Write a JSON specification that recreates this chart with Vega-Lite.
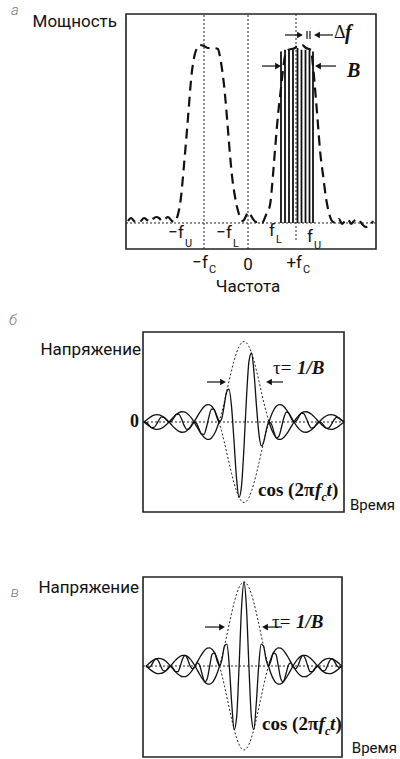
{
"$schema":"https://vega.github.io/schema/vega-lite/v6.json",
"padding":0,
"spacing":0,
"bounds":"flush",
"background":"white",
"config":{"view":{"stroke":null}},
"resolve":{"scale":{"x":"independent","y":"independent"}},
"datasets":{
"aFrame":[{"x":-12.3,"x2":12.7,"y":-0.1486,"y2":1.1943}],
"aDot":[{"x":-12.3,"x2":12.7,"y":0,"y2":0},{"x":-4.5,"x2":-4.5,"y":-0.1486,"y2":1.1943},{"x":-0.1,"x2":-0.1,"y":-0.1486,"y2":1.1943},{"x":4.7,"x2":4.7,"y":-0.097,"y2":1.1943}],
"aSpec":[{"x":-12.1,"y":0.0114},{"x":-11.8,"y":0.0286},{"x":-11.5,"y":0.0114},{"x":-11.2,"y":0},{"x":-10.8,"y":0.0114},{"x":-10.5,"y":0.0286},{"x":-10.2,"y":0.0171},{"x":-9.9,"y":0.0057},{"x":-9.6,"y":0.0229},{"x":-9.3,"y":0.0343},{"x":-9.0,"y":0.0286},{"x":-8.7,"y":0.0114},{"x":-8.4,"y":0.0229},{"x":-8.1,"y":0.0343},{"x":-7.8,"y":0.0171},{"x":-7.5,"y":0.0057},{"x":-7.3,"y":0.0171},{"x":-7.0,"y":0.0743},{"x":-6.8,"y":0.1486},{"x":-6.5,"y":0.3314},{"x":-6.2,"y":0.5314},{"x":-6.0,"y":0.6743},{"x":-5.8,"y":0.8171},{"x":-5.5,"y":0.9429},{"x":-5.2,"y":1.0},{"x":-4.9,"y":1.0171},{"x":-4.5,"y":1.0114},{"x":-4.1,"y":1.0},{"x":-3.6,"y":1.0},{"x":-3.1,"y":0.9943},{"x":-2.9,"y":0.95},{"x":-2.7,"y":0.88},{"x":-2.5,"y":0.79},{"x":-2.3,"y":0.67},{"x":-2.1,"y":0.53},{"x":-1.9,"y":0.39},{"x":-1.7,"y":0.27},{"x":-1.4,"y":0.15},{"x":-1.1,"y":0.07},{"x":-0.8,"y":0.0229},{"x":-0.6,"y":0.0114},{"x":-0.3,"y":0.04},{"x":-0.1,"y":0.0629},{"x":0.1,"y":0.0514},{"x":0.4,"y":0.0229},{"x":0.7,"y":0.0057},{"x":1.0,"y":0.0114},{"x":1.3,"y":0},{"x":1.7,"y":0.0457},{"x":2.1,"y":0.1029},{"x":2.4,"y":0.2743},{"x":2.6,"y":0.4171},{"x":2.9,"y":0.6171},{"x":3.2,"y":0.7714},{"x":3.4,"y":0.8743},{"x":3.6,"y":0.9543},{"x":3.9,"y":0.9886},{"x":4.6,"y":1.0},{"x":4.9,"y":1.0171},{"x":5.3,"y":1.0171},{"x":5.7,"y":1.0},{"x":6.2,"y":0.9886},{"x":6.4,"y":0.8971},{"x":6.7,"y":0.7029},{"x":6.9,"y":0.56},{"x":7.1,"y":0.4171},{"x":7.4,"y":0.2743},{"x":7.7,"y":0.1429},{"x":8.0,"y":0.0571},{"x":8.3,"y":0.0114},{"x":8.7,"y":0},{"x":9.0,"y":0.0229},{"x":9.3,"y":-0.0057},{"x":9.6,"y":0.0114},{"x":9.9,"y":0.0229},{"x":10.2,"y":-0.0057},{"x":10.5,"y":0.0114},{"x":10.9,"y":0.0229},{"x":11.3,"y":-0.0057},{"x":11.7,"y":-0.0229},{"x":12.1,"y":-0.0171},{"x":12.4,"y":0.0114}],
"aBars":[{"x":3.2,"y":0,"y2":0.98},{"x":3.6,"y":0,"y2":0.99},{"x":4.0,"y":0,"y2":0.99},{"x":4.4,"y":0,"y2":0.99},{"x":4.85,"y":0,"y2":1.0},{"x":5.25,"y":0,"y2":0.99},{"x":5.65,"y":0,"y2":0.99},{"x":6.05,"y":0,"y2":0.99},{"x":6.4,"y":0,"y2":0.98}],
"aArr":[{"x":3.6,"x2":5.1,"y":1.0743,"y2":1.0743},{"x":8.4,"x2":6.8,"y":1.0743,"y2":1.0743},{"x":5.8,"x2":5.8,"y":1.051,"y2":1.097},{"x":6.1,"x2":6.1,"y":1.051,"y2":1.097},{"x":1.3,"x2":2.9,"y":0.897,"y2":0.897},{"x":8.7,"x2":6.9,"y":0.897,"y2":0.897}],
"aHead":[{"x":5.1,"y":1.0743,"d":"r"},{"x":6.8,"y":1.0743,"d":"l"},{"x":2.9,"y":0.897,"d":"r"},{"x":6.9,"y":0.897,"d":"l"}],
"aT1":[{"x":-13.2,"y":1.1486,"s":"Мощность"},{"x":-6.5,"y":-0.0571,"s":"−f"},{"x":-1.7,"y":-0.0571,"s":"−f"},{"x":2.6,"y":-0.0457,"s":"f"},{"x":6.4,"y":-0.08,"s":"f"},{"x":-4.1,"y":-0.2286,"s":"−f"},{"x":5.3,"y":-0.2286,"s":"+f"}],
"aT2":[{"x":-6.4,"y":-0.12,"s":"U"},{"x":-1.6,"y":-0.12,"s":"L"},{"x":2.7,"y":-0.0971,"s":"L"},{"x":6.5,"y":-0.1314,"s":"U"},{"x":-4.0,"y":-0.2686,"s":"C"},{"x":5.4,"y":-0.2686,"s":"C"}],
"aT3":[{"x":-0.1,"y":-0.24,"s":"0"},{"x":-0.1,"y":-0.3657,"s":"Частота"}],
"aDelta":[{"x":8.5,"y":1.0857,"s":"Δ"}],
"aBI":[{"x":9.6,"y":1.0857,"s":"f"},{"x":9.8,"y":0.8686,"s":"B"}],
"aLet":[{"x":-23.4,"y":1.2171,"s":"а"}],
"env":[
{"p":"L","x":-4,"u":0,"d":0},{"p":"L","x":-3.9,"u":-0.0252,"d":0.0252},{"p":"L","x":-3.8,"u":-0.0492,"d":0.0492},{"p":"L","x":-3.7,"u":-0.0696,"d":0.0696},{"p":"L","x":-3.6,"u":-0.0841,"d":0.0841},{"p":"L","x":-3.5,"u":-0.0909,"d":0.0909},{"p":"L","x":-3.4,"u":-0.089,"d":0.089},{"p":"L","x":-3.3,"u":-0.078,"d":0.078},{"p":"L","x":-3.2,"u":-0.0585,"d":0.0585},{"p":"L","x":-3.1,"u":-0.0317,"d":0.0317},{"p":"L","x":-3,"u":0,"d":0},
{"p":"L","x":-2.9,"u":0.0339,"d":-0.0339},{"p":"L","x":-2.8,"u":0.0668,"d":-0.0668},{"p":"L","x":-2.7,"u":0.0954,"d":-0.0954},{"p":"L","x":-2.6,"u":0.1164,"d":-0.1164},{"p":"L","x":-2.5,"u":0.1273,"d":-0.1273},{"p":"L","x":-2.4,"u":0.1261,"d":-0.1261},{"p":"L","x":-2.3,"u":0.112,"d":-0.112},{"p":"L","x":-2.2,"u":0.085,"d":-0.085},{"p":"L","x":-2.1,"u":0.0468,"d":-0.0468},{"p":"L","x":-2,"u":0,"d":0},
{"p":"L","x":-1.9,"u":-0.0518,"d":0.0518},{"p":"L","x":-1.8,"u":-0.1039,"d":0.1039},{"p":"L","x":-1.7,"u":-0.1515,"d":0.1515},{"p":"L","x":-1.6,"u":-0.1892,"d":0.1892},{"p":"L","x":-1.5,"u":-0.2122,"d":0.2122},{"p":"L","x":-1.4,"u":-0.2162,"d":0.2162},{"p":"L","x":-1.3,"u":-0.1981,"d":0.1981},{"p":"L","x":-1.2,"u":-0.1559,"d":0.1559},{"p":"L","x":-1.1,"u":-0.0894,"d":0.0894},{"p":"L","x":-1,"u":0,"d":0},
{"p":"M","x":-1,"u":0,"d":0},{"p":"M","x":-0.9,"u":0.1093,"d":-0.1093},{"p":"M","x":-0.8,"u":0.2339,"d":-0.2339},{"p":"M","x":-0.7,"u":0.3679,"d":-0.3679},{"p":"M","x":-0.6,"u":0.5046,"d":-0.5046},{"p":"M","x":-0.5,"u":0.6366,"d":-0.6366},{"p":"M","x":-0.4,"u":0.7568,"d":-0.7568},{"p":"M","x":-0.3,"u":0.8584,"d":-0.8584},{"p":"M","x":-0.2,"u":0.9355,"d":-0.9355},{"p":"M","x":-0.1,"u":0.9836,"d":-0.9836},{"p":"M","x":0,"u":1,"d":-1},
{"p":"M","x":0.1,"u":0.9836,"d":-0.9836},{"p":"M","x":0.2,"u":0.9355,"d":-0.9355},{"p":"M","x":0.3,"u":0.8584,"d":-0.8584},{"p":"M","x":0.4,"u":0.7568,"d":-0.7568},{"p":"M","x":0.5,"u":0.6366,"d":-0.6366},{"p":"M","x":0.6,"u":0.5046,"d":-0.5046},{"p":"M","x":0.7,"u":0.3679,"d":-0.3679},{"p":"M","x":0.8,"u":0.2339,"d":-0.2339},{"p":"M","x":0.9,"u":0.1093,"d":-0.1093},{"p":"M","x":1,"u":0,"d":0},
{"p":"R","x":1,"u":0,"d":0},{"p":"R","x":1.1,"u":-0.0894,"d":0.0894},{"p":"R","x":1.2,"u":-0.1559,"d":0.1559},{"p":"R","x":1.3,"u":-0.1981,"d":0.1981},{"p":"R","x":1.4,"u":-0.2162,"d":0.2162},{"p":"R","x":1.5,"u":-0.2122,"d":0.2122},{"p":"R","x":1.6,"u":-0.1892,"d":0.1892},{"p":"R","x":1.7,"u":-0.1515,"d":0.1515},{"p":"R","x":1.8,"u":-0.1039,"d":0.1039},{"p":"R","x":1.9,"u":-0.0518,"d":0.0518},{"p":"R","x":2,"u":0,"d":0},
{"p":"R","x":2.1,"u":0.0468,"d":-0.0468},{"p":"R","x":2.2,"u":0.085,"d":-0.085},{"p":"R","x":2.3,"u":0.112,"d":-0.112},{"p":"R","x":2.4,"u":0.1261,"d":-0.1261},{"p":"R","x":2.5,"u":0.1273,"d":-0.1273},{"p":"R","x":2.6,"u":0.1164,"d":-0.1164},{"p":"R","x":2.7,"u":0.0954,"d":-0.0954},{"p":"R","x":2.8,"u":0.0668,"d":-0.0668},{"p":"R","x":2.9,"u":0.0339,"d":-0.0339},{"p":"R","x":3,"u":0,"d":0},
{"p":"R","x":3.1,"u":-0.0317,"d":0.0317},{"p":"R","x":3.2,"u":-0.0585,"d":0.0585},{"p":"R","x":3.3,"u":-0.078,"d":0.078},{"p":"R","x":3.4,"u":-0.089,"d":0.089},{"p":"R","x":3.5,"u":-0.0909,"d":0.0909},{"p":"R","x":3.6,"u":-0.0841,"d":0.0841},{"p":"R","x":3.7,"u":-0.0696,"d":0.0696},{"p":"R","x":3.8,"u":-0.0492,"d":0.0492},{"p":"R","x":3.9,"u":-0.0252,"d":0.0252},{"p":"R","x":4,"u":0,"d":0}],
"bFrame":[{"x":-4.04,"x2":4.0,"y":-1.118,"y2":1.118}],
"bDot":[{"x":-4.04,"x2":4.0,"y":0,"y2":0}],
"bSig":[{"x":-4,"y":0},{"x":-3.9,"y":-0.0078},{"x":-3.8,"y":-0.0398},{"x":-3.7,"y":-0.0696},{"x":-3.6,"y":-0.068},{"x":-3.5,"y":-0.0281},{"x":-3.4,"y":0.0275},{"x":-3.3,"y":0.0631},{"x":-3.2,"y":0.0585},{"x":-3.1,"y":0.0256},{"x":-3,"y":0},{"x":-2.9,"y":0.0105},{"x":-2.8,"y":0.054},{"x":-2.7,"y":0.0954},{"x":-2.6,"y":0.0942},{"x":-2.5,"y":0.0393},{"x":-2.4,"y":-0.039},{"x":-2.3,"y":-0.0906},{"x":-2.2,"y":-0.085},{"x":-2.1,"y":-0.0379},{"x":-2,"y":0},{"x":-1.9,"y":-0.016},{"x":-1.8,"y":-0.0841},{"x":-1.7,"y":-0.1515},{"x":-1.6,"y":-0.1531},{"x":-1.5,"y":-0.0656},{"x":-1.4,"y":0.0668},{"x":-1.3,"y":0.1603},{"x":-1.2,"y":0.1559},{"x":-1.1,"y":0.0723},{"x":-1,"y":0},{"x":-0.9,"y":0.0338},{"x":-0.8,"y":0.1892},{"x":-0.7,"y":0.3679},{"x":-0.6,"y":0.4082},{"x":-0.5,"y":0.1967},{"x":-0.4,"y":-0.2339},{"x":-0.3,"y":-0.6944},{"x":-0.2,"y":-0.9355},{"x":-0.1,"y":-0.7957},{"x":0,"y":-0.309},{"x":0.1,"y":0.3039},{"x":0.2,"y":0.7568},{"x":0.3,"y":0.8584},{"x":0.4,"y":0.6123},{"x":0.5,"y":0.1967},{"x":0.6,"y":-0.1559},{"x":0.7,"y":-0.2976},{"x":0.8,"y":-0.2339},{"x":0.9,"y":-0.0884},{"x":1,"y":0},{"x":1.1,"y":-0.0276},{"x":1.2,"y":-0.1261},{"x":1.3,"y":-0.1981},{"x":1.4,"y":-0.1749},{"x":1.5,"y":-0.0656},{"x":1.6,"y":0.0585},{"x":1.7,"y":0.1226},{"x":1.8,"y":0.1039},{"x":1.9,"y":0.0419},{"x":2,"y":0},{"x":2.1,"y":0.0145},{"x":2.2,"y":0.0688},{"x":2.3,"y":0.112},{"x":2.4,"y":0.102},{"x":2.5,"y":0.0393},{"x":2.6,"y":-0.036},{"x":2.7,"y":-0.0772},{"x":2.8,"y":-0.0668},{"x":2.9,"y":-0.0274},{"x":3,"y":0},{"x":3.1,"y":-0.0098},{"x":3.2,"y":-0.0473},{"x":3.3,"y":-0.078},{"x":3.4,"y":-0.072},{"x":3.5,"y":-0.0281},{"x":3.6,"y":0.026},{"x":3.7,"y":0.0563},{"x":3.8,"y":0.0492},{"x":3.9,"y":0.0204},{"x":4,"y":0}],
"bArr":[{"x":-1.48,"x2":-0.84,"y":0.497,"y2":0.497},{"x":1.56,"x2":1.0,"y":0.497,"y2":0.497}],
"bHead":[{"x":-0.84,"y":0.497,"d":"r"},{"x":1.0,"y":0.497,"d":"l"}],
"bSansR":[{"x":-4.12,"y":0.894,"s":"Напряжение"}],
"bSansL":[{"x":4.24,"y":-1.031,"s":"Время"}],
"bZero":[{"x":-4.2,"y":0,"s":"0"}],
"bTau":[{"x":1.16,"y":0.671,"s":"τ="}],
"bBI":[{"x":2.12,"y":0.671,"s":"1/B"},{"x":2.84,"y":-0.845,"s":"f"},{"x":3.3,"y":-0.845,"s":"t"}],
"bBold":[{"x":0.56,"y":-0.845,"s":"cos (2π"},{"x":3.52,"y":-0.845,"s":")"}],
"bSub":[{"x":3.1,"y":-0.932,"s":"c"}],
"bLet":[{"x":-9.24,"y":1.267,"s":"б"}],
"cFrame":[{"x":-4.122,"x2":4.0,"y":-1.0833,"y2":1.0595}],
"cDot":[{"x":-4.122,"x2":4.0,"y":0,"y2":0}],
"cSig":[{"x":-4,"y":0},{"x":-3.9,"y":-0.0178},{"x":-3.8,"y":0},{"x":-3.7,"y":0.0492},{"x":-3.6,"y":0.0841},{"x":-3.5,"y":0.0643},{"x":-3.4,"y":0},{"x":-3.3,"y":-0.0552},{"x":-3.2,"y":-0.0585},{"x":-3.1,"y":-0.0224},{"x":-3,"y":0},{"x":-2.9,"y":-0.024},{"x":-2.8,"y":-0.0668},{"x":-2.7,"y":-0.0675},{"x":-2.6,"y":0},{"x":-2.5,"y":0.09},{"x":-2.4,"y":0.1261},{"x":-2.3,"y":0.0792},{"x":-2.2,"y":0},{"x":-2.1,"y":-0.0331},{"x":-2,"y":0},{"x":-1.9,"y":0.0366},{"x":-1.8,"y":0},{"x":-1.7,"y":-0.1071},{"x":-1.6,"y":-0.1892},{"x":-1.5,"y":-0.15},{"x":-1.4,"y":0},{"x":-1.3,"y":0.1401},{"x":-1.2,"y":0.1559},{"x":-1.1,"y":0.0632},{"x":-1,"y":0},{"x":-0.9,"y":0.0773},{"x":-0.8,"y":0.2339},{"x":-0.7,"y":0.2601},{"x":-0.6,"y":0},{"x":-0.5,"y":-0.4501},{"x":-0.4,"y":-0.7568},{"x":-0.3,"y":-0.607},{"x":-0.2,"y":0},{"x":-0.1,"y":0.6955},{"x":0,"y":1},{"x":0.1,"y":0.6955},{"x":0.2,"y":0},{"x":0.3,"y":-0.607},{"x":0.4,"y":-0.7568},{"x":0.5,"y":-0.4501},{"x":0.6,"y":0},{"x":0.7,"y":0.2601},{"x":0.8,"y":0.2339},{"x":0.9,"y":0.0773},{"x":1,"y":0},{"x":1.1,"y":0.0632},{"x":1.2,"y":0.1559},{"x":1.3,"y":0.1401},{"x":1.4,"y":0},{"x":1.5,"y":-0.15},{"x":1.6,"y":-0.1892},{"x":1.7,"y":-0.1071},{"x":1.8,"y":0},{"x":1.9,"y":0.0366},{"x":2,"y":0},{"x":2.1,"y":-0.0331},{"x":2.2,"y":0},{"x":2.3,"y":0.0792},{"x":2.4,"y":0.1261},{"x":2.5,"y":0.09},{"x":2.6,"y":0},{"x":2.7,"y":-0.0675},{"x":2.8,"y":-0.0668},{"x":2.9,"y":-0.024},{"x":3,"y":0},{"x":3.1,"y":-0.0224},{"x":3.2,"y":-0.0585},{"x":3.3,"y":-0.0552},{"x":3.4,"y":0},{"x":3.5,"y":0.0643},{"x":3.6,"y":0.0841},{"x":3.7,"y":0.0492},{"x":3.8,"y":0},{"x":3.9,"y":-0.0178},{"x":4,"y":0}],
"cArr":[{"x":-1.592,"x2":-0.898,"y":0.464,"y2":0.464},{"x":1.551,"x2":0.857,"y":0.464,"y2":0.464}],
"cHead":[{"x":-0.898,"y":0.464,"d":"r"},{"x":0.857,"y":0.464,"d":"l"}],
"cSansR":[{"x":-4.286,"y":0.9286,"s":"Напряжение"}],
"cSansL":[{"x":4.4,"y":-0.976,"s":"Время"}],
"cTau":[{"x":1.143,"y":0.524,"s":"τ="}],
"cBI":[{"x":2.122,"y":0.524,"s":"1/B"},{"x":3.04,"y":-0.69,"s":"f"},{"x":3.51,"y":-0.69,"s":"t"}],
"cBold":[{"x":0.735,"y":-0.69,"s":"cos (2π"},{"x":3.735,"y":-0.69,"s":")"}],
"cSub":[{"x":3.306,"y":-0.774,"s":"c"}],
"cLet":[{"x":-9.35,"y":0.881,"s":"в"}]
},
"vconcat":[
{
"width":400,"height":290,
"encoding":{
"x":{"field":"x","type":"quantitative","scale":{"domain":[-24.9,15.1],"nice":false,"zero":false},"axis":null},
"y":{"field":"y","type":"quantitative","scale":{"domain":[-0.38286,1.27429],"nice":false,"zero":false},"axis":null}},
"layer":[
{"data":{"name":"aFrame"},"mark":{"type":"rect","fill":"transparent","stroke":"#222","strokeWidth":1.6},"encoding":{"x2":{"field":"x2"},"y2":{"field":"y2"}}},
{"data":{"name":"aDot"},"mark":{"type":"rule","color":"#222","strokeWidth":1,"strokeDash":[2,2]},"encoding":{"x2":{"field":"x2"},"y2":{"field":"y2"}}},
{"data":{"name":"aSpec"},"mark":{"type":"line","color":"#111","strokeWidth":2.2,"strokeDash":[10,6],"interpolate":"monotone"}},
{"data":{"name":"aBars"},"mark":{"type":"rule","color":"#111","strokeWidth":1.8},"encoding":{"y2":{"field":"y2"}}},
{"data":{"name":"aArr"},"mark":{"type":"rule","color":"#111","strokeWidth":1.2},"encoding":{"x2":{"field":"x2"},"y2":{"field":"y2"}}},
{"data":{"name":"aHead"},"mark":{"type":"point","filled":true,"color":"#111","size":45,"opacity":1},"encoding":{"shape":{"field":"d","type":"nominal","scale":{"domain":["r","l"],"range":["triangle-right","triangle-left"]},"legend":null}}},
{"data":{"name":"aT1"},"mark":{"type":"text","font":"Roboto, Liberation Sans, sans-serif","fontSize":17,"align":"right","baseline":"middle","color":"#111"},"encoding":{"text":{"field":"s"}}},
{"data":{"name":"aT2"},"mark":{"type":"text","font":"Roboto, Liberation Sans, sans-serif","fontSize":11,"align":"left","baseline":"middle","color":"#111"},"encoding":{"text":{"field":"s"}}},
{"data":{"name":"aT3"},"mark":{"type":"text","font":"Roboto, Liberation Sans, sans-serif","fontSize":17,"align":"center","baseline":"middle","color":"#111"},"encoding":{"text":{"field":"s"}}},
{"data":{"name":"aDelta"},"mark":{"type":"text","font":"Liberation Serif, Times New Roman, serif","fontSize":18,"align":"left","baseline":"middle","color":"#111"},"encoding":{"text":{"field":"s"}}},
{"data":{"name":"aBI"},"mark":{"type":"text","font":"Liberation Serif, Times New Roman, serif","fontSize":20,"fontWeight":"bold","fontStyle":"italic","align":"left","baseline":"middle","color":"#111"},"encoding":{"text":{"field":"s"}}},
{"data":{"name":"aLet"},"mark":{"type":"text","font":"Roboto, Liberation Sans, sans-serif","fontSize":15,"fontStyle":"italic","fontWeight":300,"align":"center","baseline":"middle","color":"#777"},"encoding":{"text":{"field":"s"}}}
]},
{
"width":400,"height":235,
"encoding":{
"x":{"field":"x","type":"quantitative","scale":{"domain":[-9.76,6.24],"nice":false,"zero":false},"axis":null},
"y":{"field":"y","type":"quantitative","scale":{"domain":[-1.2795,1.6398],"nice":false,"zero":false},"axis":null}},
"layer":[
{"data":{"name":"bFrame"},"mark":{"type":"rect","fill":"transparent","stroke":"#222","strokeWidth":1.6},"encoding":{"x2":{"field":"x2"},"y2":{"field":"y2"}}},
{"data":{"name":"bDot"},"mark":{"type":"rule","color":"#222","strokeWidth":1,"strokeDash":[2,2]},"encoding":{"x2":{"field":"x2"},"y2":{"field":"y2"}}},
{"data":{"name":"env"},"transform":[{"filter":"datum.p == 'M'"},{"fold":["u","d"],"as":["g","y"]}],"mark":{"type":"line","color":"#222","strokeWidth":1,"strokeDash":[2,2],"interpolate":"monotone"},"encoding":{"detail":{"field":"g"}}},
{"data":{"name":"env"},"transform":[{"filter":"datum.p != 'M'"},{"fold":["u","d"],"as":["g","y"]}],"mark":{"type":"line","color":"#111","strokeWidth":1.3,"interpolate":"monotone"},"encoding":{"detail":[{"field":"g"},{"field":"p"}]}},
{"data":{"name":"bSig"},"mark":{"type":"line","color":"#111","strokeWidth":1.3,"interpolate":"monotone"}},
{"data":{"name":"bArr"},"mark":{"type":"rule","color":"#111","strokeWidth":1.2},"encoding":{"x2":{"field":"x2"},"y2":{"field":"y2"}}},
{"data":{"name":"bHead"},"mark":{"type":"point","filled":true,"color":"#111","size":45,"opacity":1},"encoding":{"shape":{"field":"d","type":"nominal","scale":{"domain":["r","l"],"range":["triangle-right","triangle-left"]},"legend":null}}},
{"data":{"name":"bSansR"},"mark":{"type":"text","font":"Roboto, Liberation Sans, sans-serif","fontSize":17,"align":"right","baseline":"middle","color":"#111"},"encoding":{"text":{"field":"s"}}},
{"data":{"name":"bSansL"},"mark":{"type":"text","font":"Roboto, Liberation Sans, sans-serif","fontSize":15,"align":"left","baseline":"middle","color":"#111"},"encoding":{"text":{"field":"s"}}},
{"data":{"name":"bZero"},"mark":{"type":"text","font":"Liberation Serif, Times New Roman, serif","fontSize":18,"fontWeight":"bold","align":"right","baseline":"middle","color":"#111"},"encoding":{"text":{"field":"s"}}},
{"data":{"name":"bTau"},"mark":{"type":"text","font":"Liberation Serif, Times New Roman, serif","fontSize":19,"align":"left","baseline":"middle","color":"#111"},"encoding":{"text":{"field":"s"}}},
{"data":{"name":"bBI"},"mark":{"type":"text","font":"Liberation Serif, Times New Roman, serif","fontSize":19,"fontWeight":"bold","fontStyle":"italic","align":"left","baseline":"middle","color":"#111"},"encoding":{"text":{"field":"s"}}},
{"data":{"name":"bBold"},"mark":{"type":"text","font":"Liberation Serif, Times New Roman, serif","fontSize":19,"fontWeight":"bold","align":"left","baseline":"middle","color":"#111"},"encoding":{"text":{"field":"s"}}},
{"data":{"name":"bSub"},"mark":{"type":"text","font":"Liberation Serif, Times New Roman, serif","fontSize":12,"fontStyle":"italic","fontWeight":"bold","align":"left","baseline":"middle","color":"#111"},"encoding":{"text":{"field":"s"}}},
{"data":{"name":"bLet"},"mark":{"type":"text","font":"Roboto, Liberation Sans, sans-serif","fontSize":15,"fontStyle":"italic","fontWeight":300,"align":"center","baseline":"middle","color":"#777"},"encoding":{"text":{"field":"s"}}}
]},
{
"width":400,"height":234,
"encoding":{
"x":{"field":"x","type":"quantitative","scale":{"domain":[-9.959,6.367],"nice":false,"zero":false},"axis":null},
"y":{"field":"y","type":"quantitative","scale":{"domain":[-1.1071,1.6786],"nice":false,"zero":false},"axis":null}},
"layer":[
{"data":{"name":"cFrame"},"mark":{"type":"rect","fill":"transparent","stroke":"#222","strokeWidth":1.6},"encoding":{"x2":{"field":"x2"},"y2":{"field":"y2"}}},
{"data":{"name":"cDot"},"mark":{"type":"rule","color":"#222","strokeWidth":1,"strokeDash":[2,2]},"encoding":{"x2":{"field":"x2"},"y2":{"field":"y2"}}},
{"data":{"name":"env"},"transform":[{"filter":"datum.p == 'M'"},{"fold":["u","d"],"as":["g","y"]}],"mark":{"type":"line","color":"#222","strokeWidth":1,"strokeDash":[2,2],"interpolate":"monotone"},"encoding":{"detail":{"field":"g"}}},
{"data":{"name":"env"},"transform":[{"filter":"datum.p != 'M'"},{"fold":["u","d"],"as":["g","y"]}],"mark":{"type":"line","color":"#111","strokeWidth":1.3,"interpolate":"monotone"},"encoding":{"detail":[{"field":"g"},{"field":"p"}]}},
{"data":{"name":"cSig"},"mark":{"type":"line","color":"#111","strokeWidth":1.3,"interpolate":"monotone"}},
{"data":{"name":"cArr"},"mark":{"type":"rule","color":"#111","strokeWidth":1.2},"encoding":{"x2":{"field":"x2"},"y2":{"field":"y2"}}},
{"data":{"name":"cHead"},"mark":{"type":"point","filled":true,"color":"#111","size":45,"opacity":1},"encoding":{"shape":{"field":"d","type":"nominal","scale":{"domain":["r","l"],"range":["triangle-right","triangle-left"]},"legend":null}}},
{"data":{"name":"cSansR"},"mark":{"type":"text","font":"Roboto, Liberation Sans, sans-serif","fontSize":17,"align":"right","baseline":"middle","color":"#111"},"encoding":{"text":{"field":"s"}}},
{"data":{"name":"cSansL"},"mark":{"type":"text","font":"Roboto, Liberation Sans, sans-serif","fontSize":15,"align":"left","baseline":"middle","color":"#111"},"encoding":{"text":{"field":"s"}}},
{"data":{"name":"cTau"},"mark":{"type":"text","font":"Liberation Serif, Times New Roman, serif","fontSize":19,"align":"left","baseline":"middle","color":"#111"},"encoding":{"text":{"field":"s"}}},
{"data":{"name":"cBI"},"mark":{"type":"text","font":"Liberation Serif, Times New Roman, serif","fontSize":19,"fontWeight":"bold","fontStyle":"italic","align":"left","baseline":"middle","color":"#111"},"encoding":{"text":{"field":"s"}}},
{"data":{"name":"cBold"},"mark":{"type":"text","font":"Liberation Serif, Times New Roman, serif","fontSize":19,"fontWeight":"bold","align":"left","baseline":"middle","color":"#111"},"encoding":{"text":{"field":"s"}}},
{"data":{"name":"cSub"},"mark":{"type":"text","font":"Liberation Serif, Times New Roman, serif","fontSize":12,"fontStyle":"italic","fontWeight":"bold","align":"left","baseline":"middle","color":"#111"},"encoding":{"text":{"field":"s"}}},
{"data":{"name":"cLet"},"mark":{"type":"text","font":"Roboto, Liberation Sans, sans-serif","fontSize":15,"fontStyle":"italic","fontWeight":300,"align":"center","baseline":"middle","color":"#777"},"encoding":{"text":{"field":"s"}}}
]}
]
}
